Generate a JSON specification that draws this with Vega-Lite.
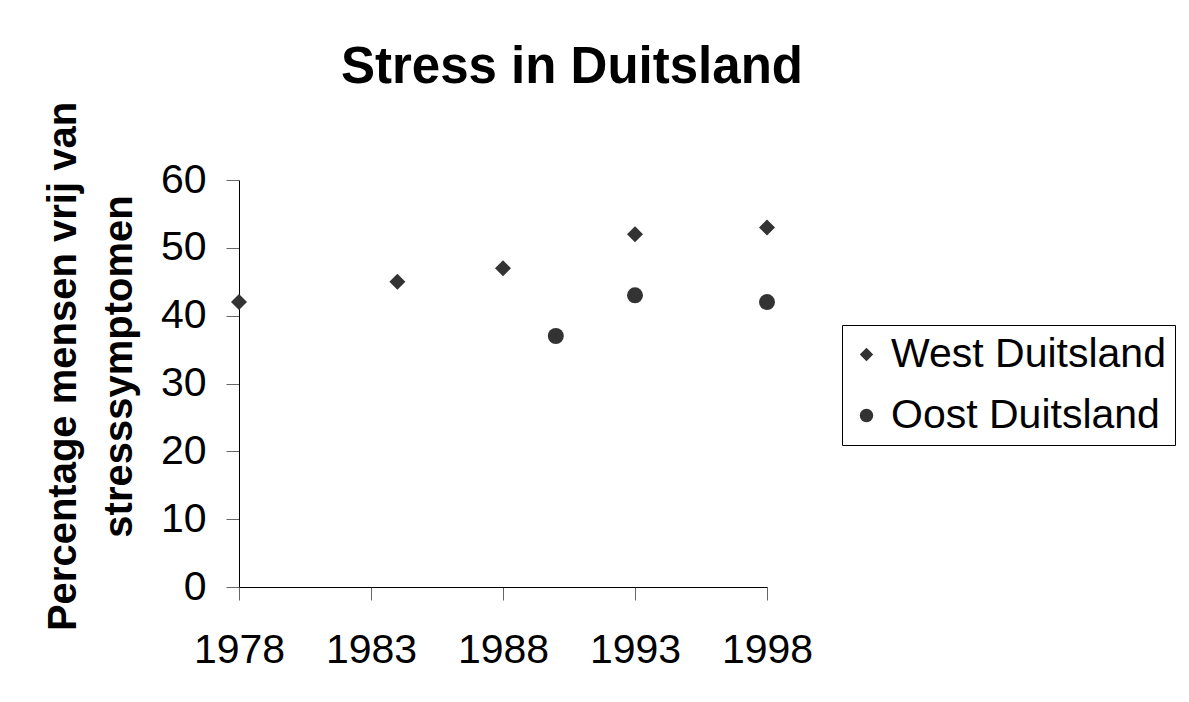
{
  "$schema": "https://vega.github.io/schema/vega-lite/v6.json",
  "autosize": {"type": "none"},
  "width": 528,
  "height": 407,
  "padding": {"left": 239, "top": 180, "right": 422, "bottom": 115},
  "background": "white",
  "title": {
    "text": "Stress in Duitsland",
    "font": "Liberation Sans",
    "fontSize": 51,
    "fontWeight": "bold",
    "color": "black",
    "anchor": "start",
    "frame": "group",
    "dx": 102,
    "baseline": "alphabetic",
    "offset": -33
  },
  "data": {
    "values": [
      {"jaar": 1978, "percentage": 42, "regio": "West Duitsland"},
      {"jaar": 1984, "percentage": 45, "regio": "West Duitsland"},
      {"jaar": 1988, "percentage": 47, "regio": "West Duitsland"},
      {"jaar": 1993, "percentage": 52, "regio": "West Duitsland"},
      {"jaar": 1998, "percentage": 53, "regio": "West Duitsland"},
      {"jaar": 1990, "percentage": 37, "regio": "Oost Duitsland"},
      {"jaar": 1993, "percentage": 43, "regio": "Oost Duitsland"},
      {"jaar": 1998, "percentage": 42, "regio": "Oost Duitsland"}
    ]
  },
  "mark": {"type": "point", "filled": true, "color": "#333333", "opacity": 1, "size": 256},
  "encoding": {
    "x": {
      "field": "jaar",
      "type": "quantitative",
      "scale": {"domain": [1978, 1998], "nice": false, "zero": false},
      "axis": {
        "values": [1978, 1983, 1988, 1993, 1998],
        "format": "d",
        "title": null,
        "grid": false,
        "labelFont": "Liberation Sans",
        "labelFontSize": 41,
        "labelColor": "black",
        "labelPadding": 30,
        "labelFlush": false,
        "labelOverlap": false,
        "tickSize": 13,
        "tickColor": "#666666",
        "domainColor": "black"
      }
    },
    "y": {
      "field": "percentage",
      "type": "quantitative",
      "scale": {"domain": [0, 60], "nice": false},
      "axis": {
        "values": [0, 10, 20, 30, 40, 50, 60],
        "title": ["Percentage mensen vrij van", "stresssymptomen"],
        "titleFont": "Liberation Sans",
        "titleFontSize": 40,
        "titleFontWeight": "bold",
        "titleColor": "black",
        "titleLineHeight": 56,
        "titleX": -156,
        "titleY": 186,
        "titleBaseline": "bottom",
        "grid": false,
        "labelFont": "Liberation Sans",
        "labelFontSize": 41,
        "labelColor": "black",
        "labelPadding": 20,
        "labelFlush": false,
        "labelOverlap": false,
        "tickSize": 13,
        "tickColor": "#666666",
        "domainColor": "black"
      }
    },
    "shape": {
      "field": "regio",
      "type": "nominal",
      "scale": {"domain": ["West Duitsland", "Oost Duitsland"], "range": ["diamond", "circle"]},
      "legend": {
        "title": null,
        "orient": "none",
        "legendX": 603,
        "legendY": 145,
        "strokeColor": "black",
        "padding": 9,
        "labelFont": "Liberation Sans",
        "labelFontSize": 41,
        "labelColor": "black",
        "labelOffset": 4,
        "labelLimit": 500,
        "symbolSize": 180,
        "symbolOffset": -5,
        "symbolFillColor": "#333333",
        "symbolStrokeWidth": 0,
        "rowPadding": 19
      }
    }
  },
  "config": {"view": {"stroke": null}}
}
